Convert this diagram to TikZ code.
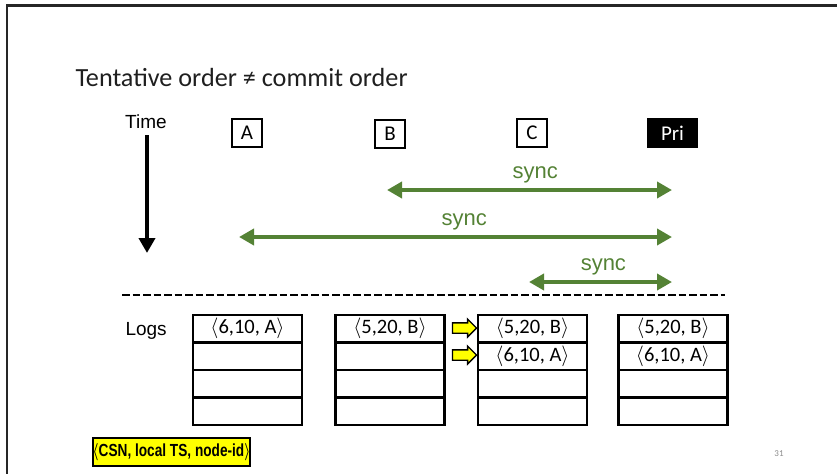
\documentclass[tikz,border=0pt]{standalone}
\usepackage{fontspec}
\setmainfont{Carlito}
\newfontfamily\arialfont{Liberation Sans}
\usetikzlibrary{arrows.meta,shapes.arrows}
\definecolor{syncgreen}{RGB}{84,130,53}
\definecolor{keyyellow}{RGB}{255,255,0}
\newcommand{\logentry}[1]{$\langle$#1$\rangle$}
\begin{document}
\begin{tikzpicture}[x=1pt,y=-1pt,
  replica/.style={draw, line width=1.6pt, minimum width=30pt, minimum height=28pt,
    inner sep=0pt, font=\fontsize{21}{21}\selectfont},
  primary/.style={fill=black, text=white, minimum width=51pt, minimum height=30pt,
    inner sep=0pt, font=\fontsize{21}{21}\selectfont},
  sidelabel/.style={anchor=base west, font=\arialfont\fontsize{19}{19}\selectfont},
  syncarrow/.style={draw=syncgreen, line width=4pt,
    {Triangle[width=16pt,length=15pt]}-{Triangle[width=16pt,length=15pt]}},
  synclabel/.style={pos=0.52, anchor=base, yshift=12pt, text=syncgreen,
    font=\arialfont\fontsize{22}{22}\selectfont},
  logcell/.style={draw, line width=2.4pt, minimum width=109pt, minimum height=27.5pt,
    inner sep=0pt, font=\fontsize{20.5}{20.5}\selectfont},
  movearrow/.style={single arrow, draw, fill=keyyellow, line width=1.3pt,
    inner sep=4.5pt, minimum height=24pt, single arrow head extend=3.8pt},
  keybox/.style={draw, fill=keyyellow, line width=2pt, minimum width=155pt,
    minimum height=28pt, inner sep=0pt}
]
\useasboundingbox (0,0) rectangle (837,474);

% slide frame (top and left edges)
\draw[line width=2.6pt, black!85] (837,5.5) -- (7,5.5) -- (7,474);

% title
\node[anchor=base west, font=\fontsize{26.2}{26.2}\selectfont, text=black!88] (title) at (72,86)
  {Tentative order ≠ commit order};

% time axis
\node[anchor=base, font=\arialfont\fontsize{19}{19}\selectfont] (time) at (146,128) {Time};
\coordinate (tstart) at (147,135);
\coordinate (tend) at (147,253);
\draw[line width=4pt, -{Triangle[width=16pt,length=15pt]}] (tstart) -- (tend);

% replicas
\node[replica] (A) at (247,133) {A};
\node[replica] (B) at (390,134) {B};
\node[replica] (C) at (532,133) {C};
\node[primary] (Pri) at (672.5,133) {Pri};

% sync exchanges with the primary
\coordinate (s1l) at (387,190);   \coordinate (s1r) at (672,190);
\coordinate (s2l) at (239,237);   \coordinate (s2r) at (672,237);
\coordinate (s3l) at (529,282);   \coordinate (s3r) at (672,282);
\draw[syncarrow] (s1l) -- node[synclabel] (sync1) {sync} (s1r);
\draw[syncarrow] (s2l) -- node[synclabel] (sync2) {sync} (s2r);
\draw[syncarrow] (s3l) -- node[synclabel] (sync3) {sync} (s3r);

% separator
\coordinate (dl) at (122,295);
\coordinate (dr) at (725,295);
\draw[line width=2.5pt, dash pattern=on 7.5pt off 3pt] (dl) -- (dr);

% logs
\node[sidelabel] (logs) at (122,335) {Logs};

\node[logcell] (A1) at (247.5,328.75) {\logentry{6,10, A}};
\node[logcell] (A2) at (247.5,356.25) {};
\node[logcell] (A3) at (247.5,383.75) {};
\node[logcell] (A4) at (247.5,411.25) {};

\node[logcell] (B1) at (390,328.75) {\logentry{5,20, B}};
\node[logcell] (B2) at (390,356.25) {};
\node[logcell] (B3) at (390,383.75) {};
\node[logcell] (B4) at (390,411.25) {};

\node[logcell] (C1) at (532.5,328.75) {\logentry{5,20, B}};
\node[logcell] (C2) at (532.5,356.25) {\logentry{6,10, A}};
\node[logcell] (C3) at (532.5,383.75) {};
\node[logcell] (C4) at (532.5,411.25) {};

\node[logcell] (P1) at (673,328.75) {\logentry{5,20, B}};
\node[logcell] (P2) at (673,356.25) {\logentry{6,10, A}};
\node[logcell] (P3) at (673,383.75) {};
\node[logcell] (P4) at (673,411.25) {};

% reordering markers
\node[movearrow] (mv1) at (462,328) {};
\node[movearrow] (mv2) at (462,355) {};

% tuple legend
\node[keybox] (key) at (171.5,452)
  {\scalebox{0.78}[1]{\arialfont\bfseries\fontsize{17.5}{17.5}\selectfont\boldmath$\langle$CSN, local TS, node-id$\rangle$}};

% page number
\node[font=\fontsize{9}{9}\selectfont, text=black!45] (pg) at (779,454) {31};
\end{tikzpicture}
\end{document}
